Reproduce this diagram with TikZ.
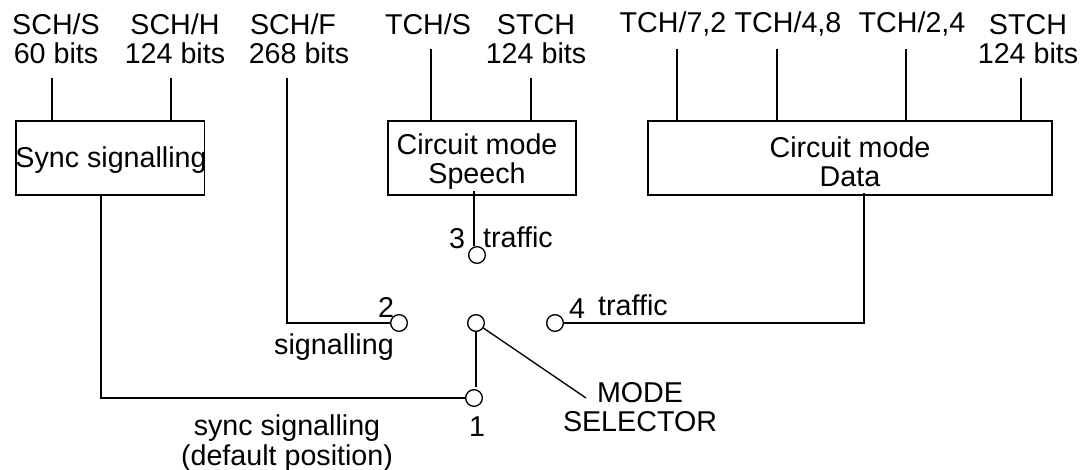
\documentclass[tikz,border=0pt]{standalone}
\usepackage{fontspec}
\setmainfont{Liberation Sans}
\usepackage{tikz}
\usetikzlibrary{calc, positioning}
\tikzset{
    lbl/.style={inner sep=0pt, font=\fontsize{21.5}{22}\selectfont, align=center},
    blockbox/.style={draw, line width=1pt, inner sep=0pt, minimum height=55.3pt},
    contact/.style={draw, circle, line width=1pt, minimum size=12.5pt, inner sep=0pt},
    wire/.style={line width=1pt}
}
\begin{document}
\begin{tikzpicture}[x=0.75pt,y=-0.75pt]
    \useasboundingbox (0,0) rectangle (1081,470);
    % top labels
    \node[lbl] (schs) at (56,39) {SCH/S\\60 bits};
    \node[lbl] (schh) at (175,39) {SCH/H\\124 bits};
    \node[lbl] (schf) at (293,24) {SCH/F};
    \node[lbl] (schfbits) at (299,53) {268 bits};
    \node[lbl] (tchs) at (428,24) {TCH/S};
    \node[lbl] (stcha) at (536,39) {STCH\\124 bits};
    \node[lbl] (tch72) at (673,24) {TCH/7,2};
    \node[lbl] (tch48) at (788,24) {TCH/4,8};
    \node[lbl] (tch24) at (912,24) {TCH/2,4};
    \node[lbl] (stchb) at (1028,39) {STCH\\124 bits};
    % blocks
    \node[blockbox, minimum width=141.5pt] (sync) at (110.3,158) {};
    \node[lbl] (synctxt) at (111,160) {Sync signalling};
    \node[blockbox, minimum width=141pt] (speech) at (482,158) {};
    \node[lbl] (speechtxt) at (477,161.5) {Circuit mode\\Speech};
    \node[blockbox, minimum width=303pt] (data) at (850,158) {};
    \node[lbl] (datatxt) at (850,161.5) {Circuit mode\\Data};
    % switch contacts
    \node[contact] (c3) at (477,255) {};
    \node[contact] (c2) at (399,323) {};
    \node[contact] (c0) at (476,323) {};
    \node[contact] (c4) at (555,323) {};
    \node[contact] (c1) at (474,398) {};
    % wire ends
    \coordinate (ws1) at (52,78);
    \coordinate (ws2) at (171,78);
    \coordinate (wf) at (287,78);
    \coordinate (wt1) at (431,49);
    \coordinate (wt2) at (531,78);
    \coordinate (wd1) at (677,49);
    \coordinate (wd2) at (777,49);
    \coordinate (wd3) at (906,49);
    \coordinate (wd4) at (1021,78);
    \coordinate (syncout) at (101,195);
    \coordinate (speechout) at (474,191);
    \coordinate (dataout) at (864,193);
    \coordinate (c0end) at (476,387);
    \coordinate (sel) at (586,398);
    % wires
    \draw[wire] (ws1) -- (ws1 |- sync.north);
    \draw[wire] (ws2) -- (ws2 |- sync.north);
    \draw[wire] (wf) |- (c2);
    \draw[wire] (wt1) -- (wt1 |- speech.north);
    \draw[wire] (wt2) -- (wt2 |- speech.north);
    \draw[wire] (wd1) -- (wd1 |- data.north);
    \draw[wire] (wd2) -- (wd2 |- data.north);
    \draw[wire] (wd3) -- (wd3 |- data.north);
    \draw[wire] (wd4) -- (wd4 |- data.north);
    \draw[wire] (syncout) |- (c1);
    \draw[wire] (speechout) -- (speechout |- c3.north);
    \draw[wire] (c4) -| (dataout);
    \draw[wire] (c0) -- (c0end);
    \draw[wire] (c0) -- (sel);
    % switch labels
    \node[lbl] (n3) at (457,239) {3};
    \node[lbl] (t3) at (518,237) {traffic};
    \node[lbl] (n2) at (386,307) {2};
    \node[lbl] (s2) at (334,347) {signalling};
    \node[lbl] (n4) at (577,309) {4};
    \node[lbl] (t4) at (633,305) {traffic};
    \node[lbl] (n1) at (477,427) {1};
    \node[lbl] (sy) at (287,443) {sync signalling\\(default position)};
    \node[lbl] (ms) at (640,407) {MODE\\SELECTOR};
\end{tikzpicture}
\end{document}
